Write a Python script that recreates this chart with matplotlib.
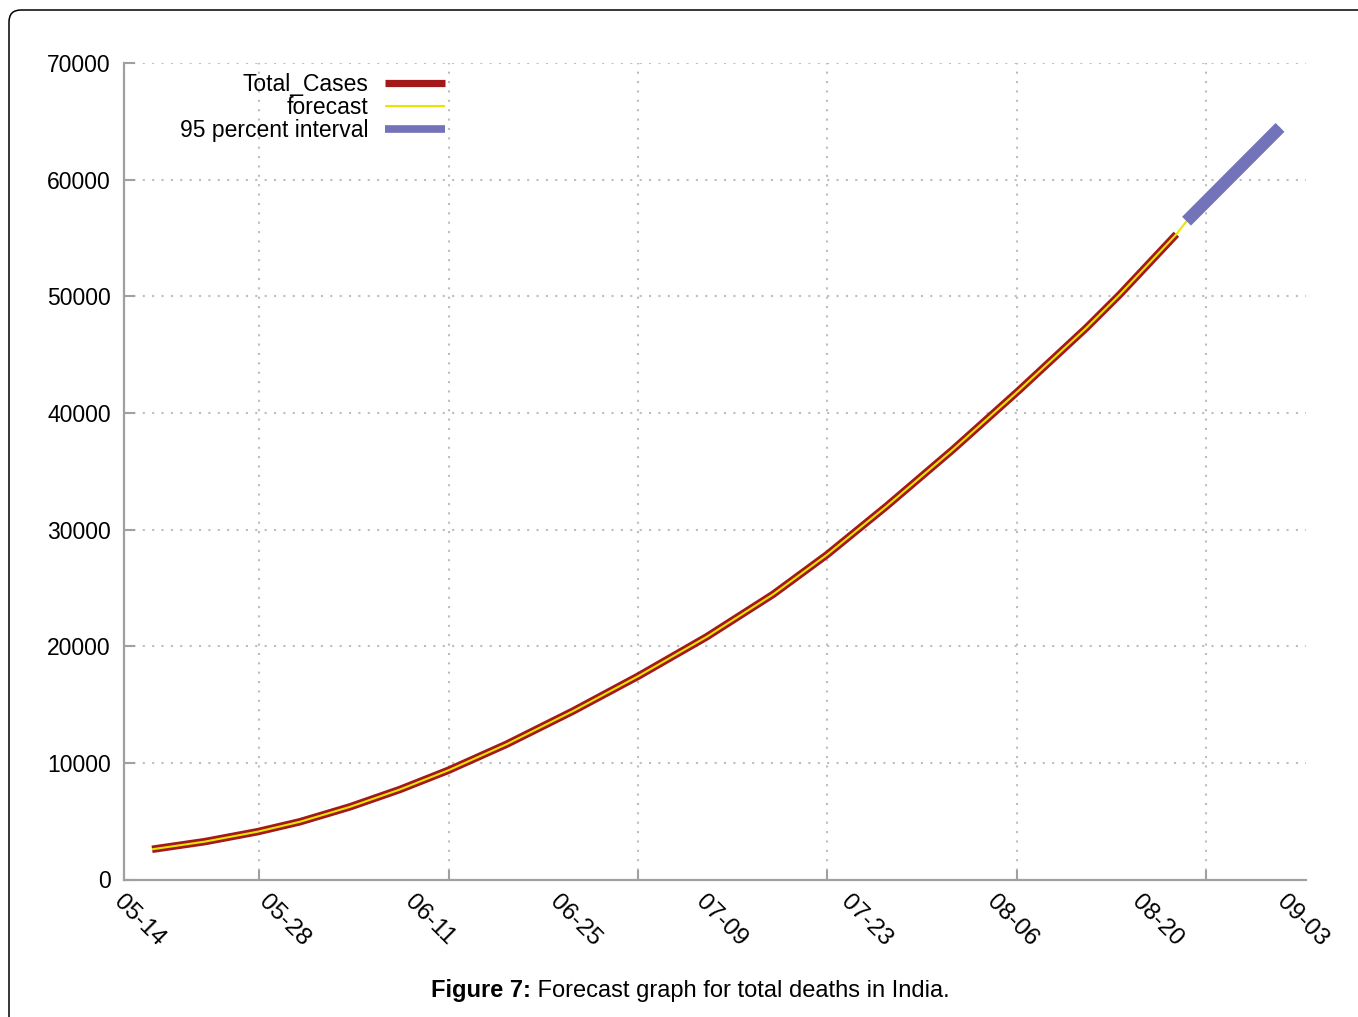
import matplotlib
matplotlib.use("Agg")
import matplotlib.pyplot as plt
from matplotlib.patches import FancyBboxPatch

plt.rcParams['font.family'] = ['Liberation Sans', 'DejaVu Sans']

# ---- data (x = days after 05-14 on the chart's axis) ----
tick_labels = ["05-14", "05-28", "06-11", "06-25", "07-09", "07-23", "08-06", "08-20", "09-03"]
label_days = [0, 14, 28, 42, 56, 70, 84, 98, 112]
grid_days = [12.9, 31.2, 49.4, 67.6, 85.9, 104.1]

total_days = [2.6, 7.7, 12.77, 16.84, 21.66, 26.47, 31.18, 36.74, 43.15, 49.44, 55.99,
              62.40, 67.59, 73.31, 79.72, 86.02, 92.56, 95.77, 101.22]
total_vals = [2590, 3250, 4100, 4950, 6230, 7720, 9380, 11600, 14450, 17450, 20800,
              24450, 27850, 32000, 36870, 41900, 47300, 50150, 55320]

forecast_days = total_days + [102.2, 111.2]
forecast_vals = total_vals + [56440, 64480]

interval_days = [102.2, 111.2]
interval_vals = [56440, 64480]

y_ticks = [0, 10000, 20000, 30000, 40000, 50000, 60000, 70000]

W, H = 1358, 1017
fig = plt.figure(figsize=(W / 100, H / 100), dpi=100)
fig.patch.set_facecolor('white')

ax = fig.add_axes([123.5 / W, 1 - 879.5 / H, (1306 - 123.5) / W, (879.5 - 63) / H])

red = '#a31818'
yellow = '#e6e600'
blue = '#7373b9'
gray = '#a0a0a0'

l1, = ax.plot(total_days, total_vals, color=red, lw=5.4, solid_capstyle='butt',
              solid_joinstyle='round', label='Total_Cases', zorder=3)
l2, = ax.plot(forecast_days, forecast_vals, color=yellow, lw=1.5, solid_capstyle='butt',
              solid_joinstyle='round', label='forecast', zorder=4)
l3, = ax.plot(interval_days, interval_vals, color=blue, lw=9, solid_capstyle='butt',
              label='95 percent interval', zorder=5)

ax.set_xlim(-0.15, 113.7)
ax.set_ylim(0, 70000)

ax.set_xticks(label_days)
ax.set_xticklabels(tick_labels, rotation=-45, ha='left', va='top', rotation_mode='anchor', fontsize=17.5)
ax.set_xticks(grid_days, minor=True)
ax.tick_params(axis='x', which='major', length=0, pad=8)
ax.tick_params(axis='x', which='minor', length=7, width=1.5, direction='in', color=gray)

ax.set_yticks(y_ticks)
ax.set_yticklabels([str(v) for v in y_ticks], fontsize=16.5)
ax.tick_params(axis='y', which='major', length=8, width=1.5, direction='in', color=gray, pad=9)

ax.grid(False)
for gx in grid_days:
    ax.axvline(gx, color='#bdbdbd', lw=1.5, ls=(0, (1, 3.5)), zorder=1)
for gy in y_ticks[1:]:
    ax.axhline(gy, color='#bdbdbd', lw=1.5, ls=(0, (1, 3.5)), zorder=1)

for s in ['top', 'right']:
    ax.spines[s].set_visible(False)
for s in ['left', 'bottom']:
    ax.spines[s].set_color(gray)
    ax.spines[s].set_linewidth(1.6)

leg = ax.legend(handles=[l1, l2, l3], loc='upper right',
                bbox_to_anchor=((445 - 123.5) / (1306 - 123.5), 1.0 - (73 - 63) / (879.5 - 63)),
                frameon=False, markerfirst=False, fontsize=16.5, labelspacing=0.01,
                handlelength=2.6, handletextpad=0.75, borderpad=0, borderaxespad=0)
for t in leg.get_texts():
    t.set_ha('right')
leg_lines = leg.get_lines()
leg_lines[0].set_linewidth(5.2)
leg_lines[1].set_linewidth(1.5)
leg_lines[2].set_linewidth(5.5)

# caption
fig.canvas.draw()
r = fig.canvas.get_renderer()
cap_y = 1 - 997 / H
t1 = fig.text(0, cap_y, "Figure 7:", fontsize=17, fontweight='bold', va='baseline', ha='left')
t2 = fig.text(0, cap_y, " Forecast graph for total deaths in India.", fontsize=17, va='baseline', ha='left')
w1 = t1.get_window_extent(r).width
w2 = t2.get_window_extent(r).width
x0 = 690 - (w1 + w2) / 2
t1.set_x(x0 / W)
t2.set_x((x0 + w1) / W)

# figure border (top and left, rounded corner)
border = FancyBboxPatch((0.09, -1.0), 20, (H - 10) / 100 + 1.0,
                        boxstyle='round,pad=0,rounding_size=0.12',
                        transform=fig.dpi_scale_trans, fill=False,
                        edgecolor='black', lw=1.1, clip_on=False)
fig.patches.append(border)

fig.savefig('out.png', dpi=100)
